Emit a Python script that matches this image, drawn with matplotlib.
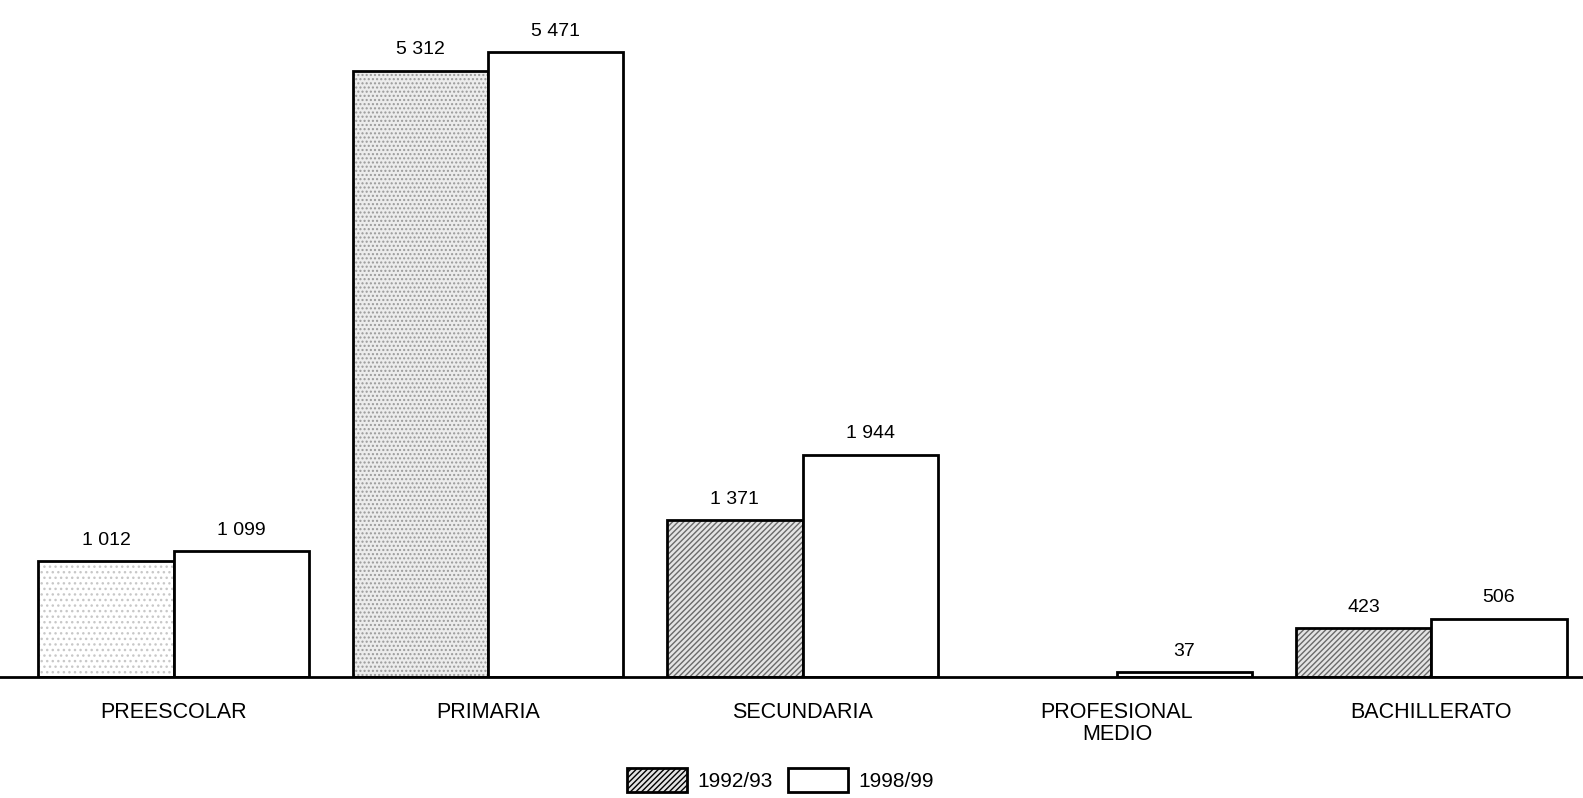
import numpy as np
import matplotlib.pyplot as plt
from matplotlib.patches import Patch

plt.rcParams['font.family'] = ['Liberation Sans', 'DejaVu Sans']

# Datos (miles)
categorias = ["PREESCOLAR", "PRIMARIA", "SECUNDARIA", "PROFESIONAL\nMEDIO", "BACHILLERATO"]
serie_1992 = [1012, 5312, 1371, 0, 423]
serie_1998 = [1099, 5471, 1944, 37, 506]
etiquetas_1992 = ["1 012", "5 312", "1 371", "", "423"]
etiquetas_1998 = ["1 099", "5 471", "1 944", "37", "506"]
anios = ["1992/93", "1998/99"]

# estilo de relleno de las barras 1992/93 (como en el original, cada una distinta)
rellenos = [("white", "...", "#c8c8c8"), ("#ececec", "....", "#9a9a9a"),
            ("#e4e4e4", "//////", "#6a6a6a"), ("#e4e4e4", "//////", "#6a6a6a"),
            ("#e4e4e4", "//////", "#6a6a6a")]

fig = plt.figure(figsize=(15.83, 7.98), dpi=100)
ax = fig.add_axes([0, 0.152, 1, 0.848])

x = np.arange(len(categorias))
w = 0.43

for i in range(len(categorias)):
    if serie_1992[i] > 0:
        fc, h, hc = rellenos[i]
        ax.bar(x[i] - w / 2, serie_1992[i], w, color=fc, hatch=h, edgecolor=hc, linewidth=0)
        ax.bar(x[i] - w / 2, serie_1992[i], w, fill=False, edgecolor="black", linewidth=2)
b2 = ax.bar(x + w / 2, serie_1998, w, color="white", edgecolor="black", linewidth=2)

for i in range(len(categorias)):
    if etiquetas_1992[i]:
        ax.annotate(etiquetas_1992[i], (x[i] - w / 2, serie_1992[i]), xytext=(0, 9),
                    textcoords="offset points", ha="center", va="bottom", fontsize=14)
    ax.annotate(etiquetas_1998[i], (x[i] + w / 2, serie_1998[i]), xytext=(0, 9),
                textcoords="offset points", ha="center", va="bottom", fontsize=14)

ax.set_xlim(-0.552, 4.482)
ax.set_ylim(0, 5930)
ax.set_xticks(x)
ax.set_xticklabels(categorias, fontsize=15.5, linespacing=1.05)
ax.tick_params(axis="x", length=0, pad=18)
ax.set_yticks([])
for s in ["top", "left", "right"]:
    ax.spines[s].set_visible(False)
ax.spines["bottom"].set_linewidth(2)
ax.patch.set_alpha(0)

handles = [Patch(facecolor="#e4e4e4", hatch="//////", edgecolor="black", linewidth=2),
           Patch(facecolor="white", edgecolor="black", linewidth=2)]
fig.legend(handles, anios, loc="center", bbox_to_anchor=(0.493, 0.022), ncol=2,
           frameon=False, fontsize=15, handlelength=2.9, handleheight=1.4,
           handletextpad=0.5, columnspacing=0.7)

fig.savefig("out.png", dpi=100)
